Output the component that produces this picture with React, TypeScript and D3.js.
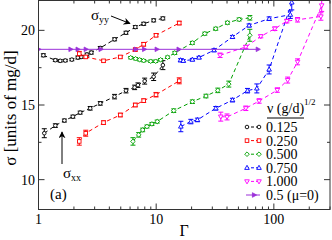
import React from "react";
import * as d3 from "d3";

const W = 332;
const H = 240;
const LEFT = 38.5;
const RIGHT = 330;
const BOTTOM = 209.5;
const TOP = 0.5;
const FONT = "'Liberation Serif', 'Times New Roman', serif";

// ν = 0.125 (black)
const g125yy = [1.10, 1.39, 1.53, 1.69, 1.92, 2.16, 2.31, 2.58, 2.81, 3.35, 4.43, 5.54, 6.65, 7.83, 9.52, 11.4];
const s125yy = [18.33, 18.0, 17.96, 17.98, 18.04, 18.18, 18.22, 18.38, 18.51, 18.82, 19.4, 19.84, 20.22, 20.44, 20.67, 20.8];
const e125yy = [0.1, 0.08, 0.08, 0.08, 0.08, 0.1, 0.1, 0.1, 0.1, 0.1, 0.1, 0.1, 0.1, 0.1, 0.1, 0.1];
const g125xx = [1.12, 1.39, 1.66, 1.96, 2.26, 2.75, 3.35, 4.43, 5.54, 6.56, 7.0, 7.98, 9.52, 11.4];
const s125xx = [13.11, 13.62, 13.96, 14.22, 14.49, 14.78, 15.11, 15.56, 15.96, 16.18, 16.33, 16.6, 16.89, 17.67];
const e125xx = [0.3, 0.12, 0.1, 0.1, 0.1, 0.12, 0.12, 0.15, 0.15, 0.15, 0.15, 0.2, 0.25, 0.3];

// ν = 0.250 (red)
const g250 = [2.22, 2.52, 3.57, 4.96, 6.65, 7.83, 9.97, 15.7];
const s250yy = [18.44, 18.22, 17.96, 18.22, 18.71, 19.07, 19.67, 20.49];
const e250yy = [0.15, 0.1, 0.08, 0.08, 0.1, 0.12, 0.1, 0.12];
const s250xx = [12.56, 13.11, 13.82, 14.33, 15.0, 15.29, 15.69, 16.62];
const e250xx = [0.25, 0.2, 0.12, 0.12, 0.12, 0.12, 0.15, 0.2];

// ν = 0.500 (green)
const g500yy = [6.07, 6.69, 7.24, 7.83, 8.98, 9.9, 10.9, 12.5, 14.4, 20.3, 25.9, 32.1, 40.3, 50.7, 62.5];
const s500yy = [18.17, 18.1, 18.03, 17.97, 17.93, 17.93, 18.03, 18.2, 18.49, 19.16, 19.78, 20.11, 20.51, 20.73, 20.84];
const e500yy = [0.08, 0.08, 0.08, 0.08, 0.08, 0.08, 0.08, 0.08, 0.1, 0.1, 0.1, 0.1, 0.1, 0.1, 0.15];
const g500xx = [6.35, 7.1, 7.68, 8.35, 9.2, 10.2, 14.1, 20.3, 26.5, 33.4, 41.4, 62.5];
const s500xx = [12.56, 13.0, 13.33, 13.56, 13.73, 13.89, 14.62, 15.22, 15.6, 15.98, 16.4, 19.67];
const e500xx = [0.25, 0.15, 0.12, 0.1, 0.1, 0.1, 0.12, 0.12, 0.12, 0.15, 0.2, 0.4];

// ν = 0.750 (blue)
const g750yy = [16.1, 17.0, 20.3, 23.1, 31.0, 44.5, 61.6, 91.2, 138];
const s750yy = [18.0, 17.96, 18.04, 18.18, 18.67, 19.56, 20.33, 20.78, 21.05];
const e750yy = [0.1, 0.08, 0.08, 0.08, 0.1, 0.1, 0.1, 0.12, 0.25];
const g750xx = [16.2, 19.7, 22.4, 32.1, 44.5, 59.7, 71.7, 91.2, 142];
const s750xx = [13.56, 13.89, 14.0, 14.78, 15.33, 15.96, 16.11, 17.38, 21.87];
const e750xx = [0.35, 0.15, 0.12, 0.12, 0.12, 0.15, 0.3, 0.3, 0.5];

// ν = 1.000 (magenta)
const g1000yy = [34.9, 57.8, 77.5, 102, 129, 159, 251];
const s1000yy = [18.33, 18.89, 19.6, 20.11, 20.62, 20.71, 20.93];
const e1000yy = [0.15, 0.1, 0.1, 0.12, 0.12, 0.15, 0.25];
const g1000xx = [35.4, 40.0, 57.8, 75.0, 107, 131, 159, 255];
const s1000xx = [14.22, 14.2, 14.78, 15.27, 16.0, 16.67, 17.89, 21.67];
const e1000xx = [0.3, 0.2, 0.15, 0.15, 0.15, 0.2, 0.2, 0.4];

// ν = 0.5, μ = 0 (purple)
const gMu0 = [1.0, 1.87, 2.15, 2.52, 3.37, 6.7, 7.9, 10.1, 15.5, 73];
const sMu0 = [18.73, 18.73, 18.73, 18.73, 18.73, 18.73, 18.73, 18.73, 18.73, 18.73];

const xTickMajor = [1, 10, 100];
const xTickLabels = ["1", "10", "100"];
const xTickMinor = [2, 3, 4, 5, 6, 7, 8, 9, 20, 30, 40, 50, 60, 70, 80, 90, 200, 300];
const yTickMajor = [10, 15, 20];
const yTickMinor = [12.5, 17.5];

const legendLabels = ["0.125", "0.250", "0.500", "0.750", "1.000", "0.5 (\u03bc=0)"];

type Shape = "circle" | "square" | "diamond" | "up" | "down" | "right";

const x = d3.scaleLog().domain([1, 300]).range([LEFT, RIGHT]);
const y = d3.scaleLinear().domain([8, 22]).range([BOTTOM, TOP]);

function Marker({ shape, cx, cy, color }: { shape: Shape; cx: number; cy: number; color: string }) {
  const common = { fill: "white", stroke: color, strokeWidth: 0.9 } as any;
  if (shape === "circle") return <circle cx={cx} cy={cy} r={1.8} {...common} />;
  if (shape === "square") return <rect x={cx - 1.8} y={cy - 1.8} width={3.6} height={3.6} {...common} />;
  if (shape === "diamond")
    return <polygon points={`${cx},${cy - 2.3} ${cx + 2.3},${cy} ${cx},${cy + 2.3} ${cx - 2.3},${cy}`} {...common} />;
  if (shape === "up")
    return <polygon points={`${cx},${cy - 2.5} ${cx + 2.3},${cy + 1.6} ${cx - 2.3},${cy + 1.6}`} {...common} />;
  if (shape === "down")
    return <polygon points={`${cx},${cy + 2.5} ${cx + 2.3},${cy - 1.6} ${cx - 2.3},${cy - 1.6}`} {...common} />;
  return <polygon points={`${cx + 2.6},${cy} ${cx - 1.6},${cy - 2.3} ${cx - 1.6},${cy + 2.3}`} fill={color} stroke={color} strokeWidth={0.8} />;
}

function Curve({ g, s, e, color, shape, dashed = true }: { g: number[]; s: number[]; e?: number[]; color: string; shape: Shape; dashed?: boolean }) {
  const pts = g.map((gi, i) => [x(gi), y(s[i])] as [number, number]);
  const line = d3.line()(pts) || "";
  return (
    <g>
      <path d={line} fill="none" stroke={color} strokeWidth={1} strokeDasharray={dashed ? "4,3" : undefined} />
      {e &&
        pts.map(([px], i) => {
          const y1 = y(s[i] + e[i]);
          const y2 = y(s[i] - e[i]);
          return (
            <g key={"e" + i} stroke={color} strokeWidth={1}>
              <line x1={px} x2={px} y1={y1} y2={y2} />
              <line x1={px - 2.5} x2={px + 2.5} y1={y1} y2={y1} />
              <line x1={px - 2.5} x2={px + 2.5} y1={y2} y2={y2} />
            </g>
          );
        })}
      {pts.map(([px, py], i) => (
        <Marker key={"m" + i} shape={shape} cx={px} cy={py} color={color} />
      ))}
    </g>
  );
}

const series = [
  { color: "#000000", shape: "circle" as Shape },
  { color: "#ff0000", shape: "square" as Shape },
  { color: "#00a000", shape: "diamond" as Shape },
  { color: "#0000ff", shape: "up" as Shape },
  { color: "#ff00ff", shape: "down" as Shape },
  { color: "#9b30d9", shape: "right" as Shape },
];

export default function App() {
  return (
    <svg width={W} height={H} style={{ position: "absolute", left: 0, top: 0, background: "white" }} fontFamily={FONT}>
      <defs>
        <clipPath id="plot">
          <rect x={LEFT} y={TOP} width={RIGHT - LEFT} height={BOTTOM - TOP} />
        </clipPath>
        <marker id="arr" viewBox="0 0 10 10" refX="9" refY="5" markerWidth="7" markerHeight="7" orient="auto-start-reverse" markerUnits="userSpaceOnUse">
          <path d="M0,0 L10,5 L0,10 L3,5 z" fill="black" />
        </marker>
      </defs>
      <rect x={0} y={0} width={W} height={H} fill="white" />

      <g clipPath="url(#plot)">
        <Curve g={g125yy} s={s125yy} e={e125yy} color={series[0].color} shape="circle" />
        <Curve g={g125xx} s={s125xx} e={e125xx} color={series[0].color} shape="circle" />
        <Curve g={g250} s={s250yy} e={e250yy} color={series[1].color} shape="square" />
        <Curve g={g250} s={s250xx} e={e250xx} color={series[1].color} shape="square" />
        <Curve g={g500yy} s={s500yy} e={e500yy} color={series[2].color} shape="diamond" />
        <Curve g={g500xx} s={s500xx} e={e500xx} color={series[2].color} shape="diamond" />
        <Curve g={g750yy} s={s750yy} e={e750yy} color={series[3].color} shape="up" />
        <Curve g={g750xx} s={s750xx} e={e750xx} color={series[3].color} shape="up" />
        <Curve g={g1000yy} s={s1000yy} e={e1000yy} color={series[4].color} shape="down" />
        <Curve g={g1000xx} s={s1000xx} e={e1000xx} color={series[4].color} shape="down" />
        <Curve g={gMu0} s={sMu0} color={series[5].color} shape="right" dashed={false} />
      </g>

      {/* frame */}
      <rect x={LEFT} y={TOP} width={RIGHT - LEFT} height={BOTTOM - TOP} fill="none" stroke="#333" strokeWidth={1} />

      {/* x ticks */}
      {xTickMajor.map((t) => (
        <g key={"xM" + t} stroke="#333">
          <line x1={x(t)} x2={x(t)} y1={BOTTOM} y2={BOTTOM - 6} />
          <line x1={x(t)} x2={x(t)} y1={TOP} y2={TOP + 6} />
        </g>
      ))}
      {xTickMinor.map((t) => (
        <g key={"xm" + t} stroke="#333">
          <line x1={x(t)} x2={x(t)} y1={BOTTOM} y2={BOTTOM - 3} />
          <line x1={x(t)} x2={x(t)} y1={TOP} y2={TOP + 3} />
        </g>
      ))}
      {xTickMajor.map((t, i) => (
        <text key={"xl" + t} x={x(t)} y={224} fontSize={14} textAnchor="middle" fill="black">
          {xTickLabels[i]}
        </text>
      ))}

      {/* y ticks */}
      {yTickMajor.map((t) => (
        <g key={"yM" + t} stroke="#333">
          <line x1={LEFT} x2={LEFT + 6} y1={y(t)} y2={y(t)} />
          <line x1={RIGHT} x2={RIGHT - 6} y1={y(t)} y2={y(t)} />
        </g>
      ))}
      {yTickMinor.map((t) => (
        <g key={"ym" + t} stroke="#333">
          <line x1={LEFT} x2={LEFT + 3} y1={y(t)} y2={y(t)} />
          <line x1={RIGHT} x2={RIGHT - 3} y1={y(t)} y2={y(t)} />
        </g>
      ))}
      {yTickMajor.map((t) => (
        <text key={"yl" + t} x={35} y={y(t) + 5} fontSize={14} textAnchor="end" fill="black">
          {t}
        </text>
      ))}

      {/* axis titles */}
      <text x={184} y={236} fontSize={16} textAnchor="middle" fill="black">
        Γ
      </text>
      <text transform="translate(16,108) rotate(-90)" fontSize={17} textAnchor="middle" fill="black">
        σ [units of mg/d]
      </text>

      {/* annotations */}
      <text x={91} y={20} fontSize={15} fill="black">
        σ<tspan dy={3} fontSize={10}>yy</tspan>
      </text>
      <line x1={111} y1={16} x2={130} y2={23.5} stroke="black" strokeWidth={1} markerEnd="url(#arr)" />
      <text x={63} y={178} fontSize={15} fill="black">
        σ<tspan dy={3} fontSize={10}>xx</tspan>
      </text>
      <line x1={62} y1={164} x2={62} y2={132} stroke="black" strokeWidth={1} markerEnd="url(#arr)" />
      <text x={50} y={199} fontSize={15} fill="black">
        (a)
      </text>

      {/* legend */}
      <text x={267} y={113} fontSize={14} fill="black">
        ν (g/d)<tspan dy={-8} fontSize={9}>1/2</tspan>
      </text>
      <line x1={267} x2={304} y1={118} y2={118} stroke="black" strokeWidth={1} />
      {series.map((sr, i) => {
        const ly = 127 + i * 13.6;
        return (
          <g key={"lg" + i}>
            <line x1={246} x2={260} y1={ly} y2={ly} stroke={sr.color} strokeWidth={1} strokeDasharray={i < 5 ? "3,2" : undefined} />
            {i < 5 ? (
              <>
                <Marker shape={sr.shape} cx={247} cy={ly} color={sr.color} />
                <Marker shape={sr.shape} cx={259} cy={ly} color={sr.color} />
              </>
            ) : (
              <Marker shape={sr.shape} cx={254} cy={ly} color={sr.color} />
            )}
            <text x={266} y={ly + 5} fontSize={14} fill="black">
              {legendLabels[i]}
            </text>
          </g>
        );
      })}
    </svg>
  );
}
